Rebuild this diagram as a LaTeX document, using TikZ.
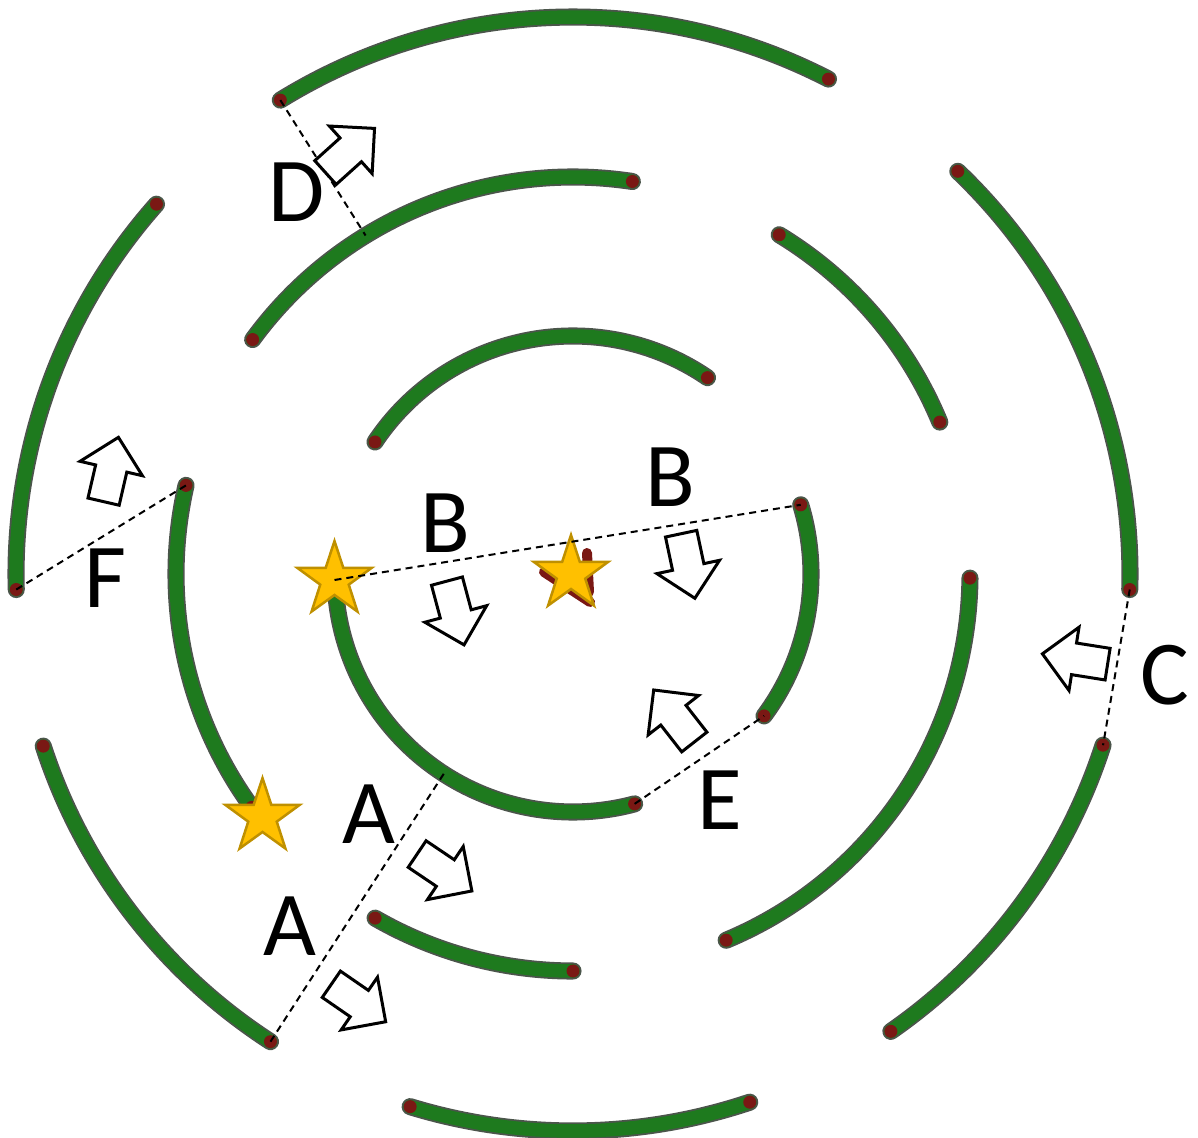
\documentclass[tikz,border=0pt]{standalone}
\usepackage{fontspec}
\setsansfont{Carlito}
\usetikzlibrary{shapes.geometric}
\definecolor{wallgreen}{RGB}{30,122,30}
\definecolor{wallrim}{RGB}{75,85,75}
\definecolor{knob}{RGB}{122,24,20}
\definecolor{stargold}{RGB}{255,192,0}
\definecolor{starrim}{RGB}{191,144,0}
\tikzset{
  wall/.style={draw=wallrim, line width=0.018cm, double=wallgreen, double distance=0.135cm, line cap=round},
  knobdot/.style={fill=knob},
  cut/.style={black, line width=0.02cm, dash pattern=on 0.07cm off 0.05cm},
  sun/.style={star, star points=5, star point ratio=2.6, minimum size=0.78cm, inner sep=0pt, fill=stargold, draw=starrim, line width=0.025cm},
  tag/.style={font=\sffamily\fontsize{26}{30}\selectfont, inner sep=0pt},
  flow/.pic={\draw[black, line width=0.03cm, fill=white]
    (-0.33,-0.16) -- (0.01,-0.16) -- (0.01,-0.32) -- (0.33,0) -- (0.01,0.32) -- (0.01,0.16) -- (-0.33,0.16) -- cycle;}
}

\begin{document}
\begin{tikzpicture}
\useasboundingbox (0,0) rectangle (11.98,11.37);
\coordinate (c) at (5.73,5.63);

\foreach \w/\r/\a/\b in {o1/5.57/121.7/62.7, o2/5.57/46.3/-1.6, o3/5.57/-17.9/-55.2,
    o4/5.57/-71.5/-107.0, o5/5.57/237.1/198.0, o6/5.57/181.6/138.4,
    m1/3.97/143.8/81.4, m2/3.97/58.7/22.5, m3/3.97/-0.6/-67.3,
    m4/3.97/-90/-119.9, m5/3.97/216/167.1,
    i1/2.38/146.3/55.6, i2/2.38/16.9/-36.6, i3/2.38/183/285}
{
  \draw[wall] ([shift={(c)}]\a:\r) coordinate (\w-a) arc[start angle=\a, end angle=\b, radius=\r] coordinate (\w-b);
  \fill[knobdot] (\w-a) circle (0.065) (\w-b) circle (0.065);
}
\coordinate (m1-d) at ([shift={(c)}]121.5:3.97);
\coordinate (i3-x) at ([shift={(c)}]237.1:2.38);

\draw[knob, line width=0.1cm, line cap=round] (5.44,5.65) -- (5.90,5.35);
\draw[knob, line width=0.1cm, line cap=round] (5.87,5.84) -- (5.89,5.45);

\node[sun] (s1) at (3.345,5.57) {};
\node[sun] (s2) at (5.71,5.63) {};
\node[sun] (s3) at (2.625,3.20) {};

\draw[cut] (o1-a) -- (m1-d);
\draw[cut] (o6-a) -- (m5-b);
\draw[cut] (s1.center) -- (i2-a);
\draw[cut] (o2-b) -- (o3-a);
\draw[cut] (i3-b) -- (i2-b);
\draw[cut] (o5-a) -- (i3-x);

\pic[rotate=-34] (fa1) at (4.445,2.645) {flow};
\pic[rotate=-34.6] (fa2) at (3.585,1.34) {flow};
\pic[rotate=42] (fd) at (3.50,9.865) {flow};
\pic[rotate=77] (ff) at (1.11,6.675) {flow};
\pic[rotate=-75] (fb1) at (4.555,5.24) {flow};
\pic[rotate=-78] (fb2) at (6.88,5.71) {flow};
\pic[rotate=128] (fe) at (6.74,4.21) {flow};
\pic[rotate=171] (fc) at (10.75,4.78) {flow};

\node[tag] (labD) at (2.97,9.45) {D};
\node[tag] (labA1) at (3.69,3.23) {A};
\node[tag] (labA2) at (2.90,2.11) {A};
\node[tag] (labB1) at (4.45,6.14) {B};
\node[tag] (labB2) at (6.70,6.60) {B};
\node[tag] (labC) at (11.65,4.62) {C};
\node[tag] (labE) at (7.20,3.37) {E};
\node[tag] (labF) at (1.05,5.59) {F};
\end{tikzpicture}
\end{document}
